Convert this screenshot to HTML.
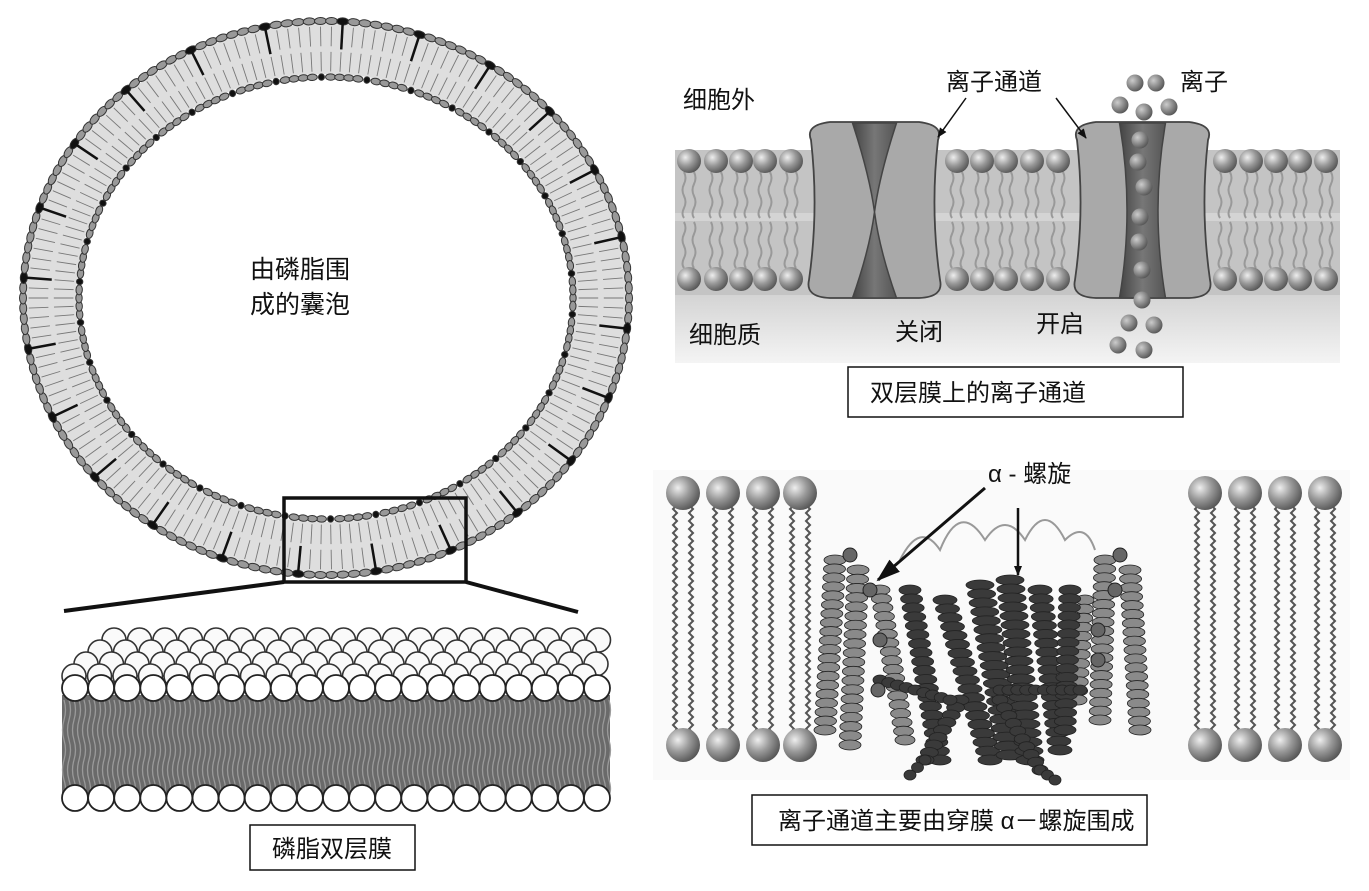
<!DOCTYPE html>
<html><head><meta charset="utf-8">
<style>
html,body{margin:0;padding:0;background:#fff;}
svg{display:block;}
text{font-family:"Liberation Sans","Noto Sans CJK SC",sans-serif;fill:#111;}
</style></head>
<body>
<svg id="s" width="1369" height="891" viewBox="0 0 1369 891" xmlns="http://www.w3.org/2000/svg">
<defs>
<radialGradient id="ball" cx="0.35" cy="0.35" r="0.7">
<stop offset="0" stop-color="#eee"/><stop offset="0.5" stop-color="#999"/><stop offset="1" stop-color="#555"/>
</radialGradient>
<radialGradient id="ion" cx="0.35" cy="0.35" r="0.7">
<stop offset="0" stop-color="#ccc"/><stop offset="1" stop-color="#555"/>
</radialGradient>
<linearGradient id="cyto" x1="0" y1="0" x2="0" y2="1">
<stop offset="0" stop-color="#d4d4d4"/><stop offset="1" stop-color="#f4f4f4"/>
</linearGradient>
<linearGradient id="dark" x1="0" y1="0" x2="1" y2="0">
<stop offset="0" stop-color="#444"/><stop offset="0.5" stop-color="#777"/><stop offset="1" stop-color="#555"/>
</linearGradient>
<marker id="ah" markerWidth="10" markerHeight="10" refX="9" refY="5" orient="auto" markerUnits="userSpaceOnUse"><path d="M0,1 L10,5 L0,9 z" fill="#111"/></marker>
<marker id="ah2" markerWidth="24" markerHeight="20" refX="22" refY="10" orient="auto" markerUnits="userSpaceOnUse"><path d="M0,2 L24,10 L0,18 z" fill="#111"/></marker>
</defs>

<g id="ves"></g>
<text x="250" y="278" font-size="25">由磷脂围</text>
<text x="250" y="313" font-size="25">成的囊泡</text>
<rect x="284" y="498" width="182" height="84" fill="none" stroke="#111" stroke-width="3.5"/>
<line x1="284" y1="582" x2="64" y2="611" stroke="#111" stroke-width="4"/>
<line x1="466" y1="582" x2="578" y2="612" stroke="#111" stroke-width="4"/>

<g id="bil"></g>
<rect x="250" y="825" width="165" height="45" fill="#fff" stroke="#111" stroke-width="1.5"/>
<text x="272" y="857" font-size="24">磷脂双层膜</text>

<rect x="675" y="150" width="665" height="145" fill="#c4c4c4"/>
<rect x="675" y="295" width="665" height="68" fill="url(#cyto)"/>
<g id="tp"></g>
<text x="683" y="108" font-size="24">细胞外</text>
<text x="946" y="90" font-size="24">离子通道</text>
<text x="1180" y="90" font-size="24">离子</text>
<text x="689" y="343" font-size="24">细胞质</text>
<text x="895" y="340" font-size="24">关闭</text>
<text x="1036" y="332" font-size="24">开启</text>
<line x1="966" y1="98" x2="938" y2="137" stroke="#111" stroke-width="1.5" marker-end="url(#ah)"/>
<line x1="1056" y1="98" x2="1086" y2="138" stroke="#111" stroke-width="1.5" marker-end="url(#ah)"/>
<rect x="848" y="367" width="335" height="50" fill="#fff" stroke="#111" stroke-width="1.5"/>
<text x="870" y="401" font-size="24">双层膜上的离子通道</text>

<rect x="653" y="470" width="697" height="310" fill="#fafafa"/>
<g id="bot"></g>
<text x="988" y="482" font-size="24">α - 螺旋</text>
<line x1="985" y1="488" x2="878" y2="580" stroke="#111" stroke-width="3" marker-end="url(#ah2)"/>
<line x1="1018" y1="508" x2="1018" y2="575" stroke="#111" stroke-width="2.5" marker-end="url(#ah)"/>
<rect x="752" y="795" width="395" height="50" fill="#fff" stroke="#111" stroke-width="1.5"/>
<text x="778" y="829" font-size="24">离子通道主要由穿膜 α－螺旋围成</text>
</svg>
<script>
(function(){
var NS="http://www.w3.org/2000/svg";
function el(p,t,a){var e=document.createElementNS(NS,t);for(var k in a)e.setAttribute(k,a[k]);p.appendChild(e);return e;}
var ves=document.getElementById('ves');
var cx=326,cy=298,rx=303,ry=277,th=56;
el(ves,'ellipse',{cx:cx,cy:cy,rx:rx-th/2,ry:ry-th/2,fill:'none',stroke:'#dedede','stroke-width':th-6});
var N=170;
for(var i=0;i<N;i++){var a=i/N*2*Math.PI;var c=Math.cos(a),s=Math.sin(a);
 var ox=cx+rx*c,oy=cy+ry*s,ix=cx+(rx-th)*c,iy=cy+(ry-th)*s;
 el(ves,'line',{x1:ox+(ix-ox)*0.1,y1:oy+(iy-oy)*0.1,x2:ox+(ix-ox)*0.45,y2:oy+(iy-oy)*0.45,stroke:'#777','stroke-width':0.9});
 el(ves,'line',{x1:ox+(ix-ox)*0.55,y1:oy+(iy-oy)*0.55,x2:ox+(ix-ox)*0.9,y2:oy+(iy-oy)*0.9,stroke:'#777','stroke-width':0.9});
 var ang=a*180/Math.PI+90;
 var d=(i%7==3);
 el(ves,'ellipse',{cx:ox,cy:oy,rx:6,ry:3.5,transform:'rotate('+ang+' '+ox+' '+oy+')',fill:d?'#111':'#999',stroke:'#333','stroke-width':1});
 var d2=(i%5==2);el(ves,'ellipse',{cx:ix,cy:iy,rx:d2?3:5,ry:3.2,transform:'rotate('+ang+' '+ix+' '+iy+')',fill:d2?'#111':'#999',stroke:'#333','stroke-width':1});
 if(d){el(ves,'line',{x1:ox,y1:oy,x2:ox+(ix-ox)*0.5,y2:oy+(iy-oy)*0.5,stroke:'#111','stroke-width':2.5});}
}
var bil=document.getElementById('bil');
el(bil,'rect',{x:62,y:695,width:548,height:100,fill:'#6a6a6a'});
for(var x=64;x<610;x+=5){el(bil,'path',{d:'M'+x+',700 q3,10 0,20 q-3,10 0,20 q3,10 0,20 q-3,10 0,20 q3,10 0,15',fill:'none',stroke:'#9a9a9a','stroke-width':1.3});}
var rows=[[640,114],[652,100],[664,86],[676,74]];
rows.forEach(function(r){for(var j=0;j<21;j++){var x=r[1]+j*25.5;if(x>605)continue;el(bil,'circle',{cx:x,cy:r[0],r:12,fill:'#fafafa',stroke:'#333','stroke-width':1.6});}});
for(var j=0;j<21;j++){var x2=75+j*26.1;el(bil,'circle',{cx:x2,cy:688,r:13,fill:'#fff',stroke:'#222','stroke-width':1.8});}
for(var j2=0;j2<21;j2++){var x3=75+j2*26.1;el(bil,'circle',{cx:x3,cy:798,r:13,fill:'#fff',stroke:'#222','stroke-width':1.8});}
var tp=document.getElementById('tp');
el(tp,'rect',{x:675,y:213,width:665,height:8,fill:'#d4d4d4'});
function lipids(xs){xs.forEach(function(x){
 for(var k=-1;k<=1;k+=2){for(var h=0;h<2;h++){var y0=h?222:172;el(tp,'path',{d:'M'+(x+k*5)+','+y0+' q3,6 0,12 q-3,6 0,12 q3,6 0,12 q-3,6 0,10',fill:'none',stroke:'#999','stroke-width':2});}}
 el(tp,'circle',{cx:x,cy:161,r:12,fill:'url(#ball)'});el(tp,'circle',{cx:x,cy:279,r:12,fill:'url(#ball)'});});}
lipids([689,716,741,765,791,957,982,1006,1032,1058,1225,1251,1276,1300,1326]);
function chan(x0,x1,open){
 var m=(x0+x1)/2;
 el(tp,'path',{d:'M'+(x0+6)+',140 Q'+x0+',125 '+(x0+25)+',122 L'+(x1-25)+',122 Q'+x1+',125 '+(x1-6)+',140 Q'+(x1-14)+',210 '+(x1-4)+',280 Q'+x1+',297 '+(x1-25)+',298 L'+(x0+25)+',298 Q'+x0+',297 '+(x0+4)+',280 Q'+(x0+14)+',210 '+(x0+6)+',140 Z',fill:'#a9a9a9',stroke:'#444','stroke-width':1.8});
 if(open){el(tp,'path',{d:'M'+(m-23)+',123 L'+(m+23)+',123 Q'+(m+8)+',210 '+(m+23)+',298 L'+(m-23)+',298 Q'+(m-8)+',210 '+(m-23)+',123 Z',fill:'url(#dark)',stroke:'#444','stroke-width':1.5});}
 else{el(tp,'path',{d:'M'+(m-22)+',123 L'+(m+22)+',123 Q'+(m+5)+',175 '+m+',212 Q'+(m+5)+',250 '+(m+22)+',298 L'+(m-22)+',298 Q'+(m-5)+',250 '+m+',212 Q'+(m-5)+',175 '+(m-22)+',123 Z',fill:'url(#dark)',stroke:'#444','stroke-width':1.5});}
}
chan(805,944,false);chan(1071,1214,true);
[[1135,83],[1156,83],[1120,105],[1144,112],[1169,107],[1140,140],[1138,162],[1144,187],[1140,217],[1139,242],[1142,270],[1142,300],[1129,323],[1154,325],[1118,345],[1144,350]].forEach(function(p){el(tp,'circle',{cx:p[0],cy:p[1],r:8.5,fill:'url(#ion)'});});
var bot=document.getElementById('bot');
function lip2(x){
 var d1='M'+(x-6)+',505';for(var y=505;y<735;y+=8)d1+=' l-4,4 l4,4';
 var d2='M'+(x+6)+',505';for(var y2=505;y2<735;y2+=8)d2+=' l4,4 l-4,4';
 el(bot,'path',{d:d1,fill:'none',stroke:'#555','stroke-width':2});
 el(bot,'path',{d:d2,fill:'none',stroke:'#555','stroke-width':2});
 el(bot,'circle',{cx:x,cy:493,r:17,fill:'url(#ball)'});el(bot,'circle',{cx:x,cy:745,r:17,fill:'url(#ball)'});}
[683,723,763,800,1205,1245,1285,1325].forEach(lip2);
function helix(x1,y1,x2,y2,col,w){var n=Math.round(Math.hypot(x2-x1,y2-y1)/9);for(var i=0;i<=n;i++){var t=i/n;var x=x1+(x2-x1)*t,y=y1+(y2-y1)*t;el(bot,'ellipse',{cx:x,cy:y,rx:w,ry:5,fill:col,stroke:'#222','stroke-width':0.8});}}
var g='#8a8a8a',dk='#3a3a3a';
el(bot,'path',{d:'M900,560 q20,-40 40,-10 q20,-50 45,-10 q20,-30 40,0 q20,-40 40,0 q20,-20 30,10',fill:'none',stroke:'#999','stroke-width':2});
helix(835,560,825,730,g,11);helix(858,570,850,745,g,11);helix(880,590,905,740,g,10);
helix(1105,560,1100,720,g,11);helix(1130,570,1140,730,g,11);helix(1085,600,1078,700,g,9);
helix(910,590,940,760,dk,11);helix(945,600,990,760,dk,12);helix(980,585,1010,755,dk,14);
helix(1010,580,1030,760,dk,14);helix(1040,590,1060,750,dk,12);helix(1070,590,1065,730,dk,11);
helix(960,700,925,760,dk,9);helix(1000,700,1040,770,dk,8);
helix(925,760,910,775,dk,6);helix(1040,770,1055,780,dk,6);
helix(880,680,950,700,dk,7);helix(1000,690,1080,690,dk,7);
[[850,555],[870,590],[880,640],[878,690],[1120,555],[1115,590],[1098,630],[1098,660]].forEach(function(p){el(bot,'circle',{cx:p[0],cy:p[1],r:7,fill:'#666',stroke:'#222'});});
})();
</script>
</body></html>
